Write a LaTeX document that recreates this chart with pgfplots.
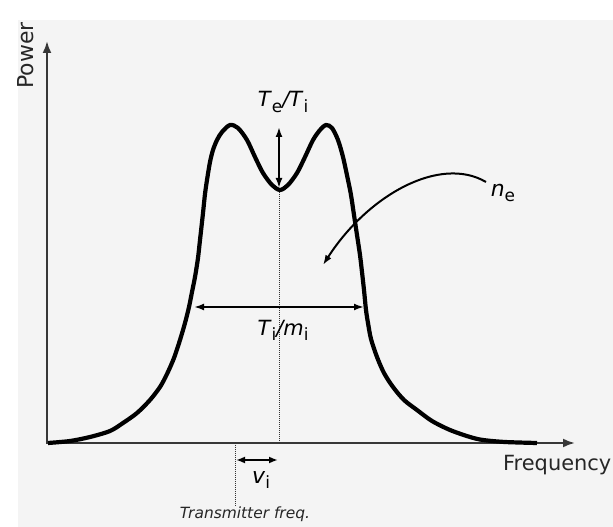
\documentclass[border=0pt]{standalone}
\usepackage{pgfplots}
\pgfplotsset{compat=1.18}
\usepackage{fontspec}
\setmainfont{DejaVu Sans}
\usetikzlibrary{arrows.meta}
\definecolor{bg}{RGB}{244,244,244}
\definecolor{axc}{RGB}{55,55,55}
\newcommand{\sub}[1]{\raisebox{-0.45ex}{\fontsize{17}{17}\selectfont\upshape #1}}
\begin{document}
\begin{tikzpicture}
\useasboundingbox (0,0) rectangle (613bp,527bp);
\clip (0,0) rectangle (613bp,527bp);
\begin{axis}[
  x=1bp, y=1bp, xmin=0, xmax=613, ymin=0, ymax=527,
  hide axis, clip=false, at={(0,0)}, anchor=south west
]
\fill[white] (0,0) rectangle (613,527);
\fill[bg] (18,0) rectangle (613,507);
% axes
\draw[axc, line width=2.2bp, -{Latex[length=12bp,width=9bp]}] (47,83) -- (47,486);
\draw[axc, line width=2.2bp, -{Latex[length=12bp,width=9bp]}] (46,84) -- (575,84);
% dotted lines
\draw[black!80, densely dotted, line width=1bp] (279,84) -- (279,337);
\draw[black!80, densely dotted, line width=1bp] (235,84) -- (235,22);
% spectrum
\addplot[black, line width=4.2bp, smooth, tension=0.5] coordinates {
(48,84) (70,86) (90,90) (110,96) (123,104) (137,114) (150,127) (160,140)
(167,153) (174,169) (180,187) (185,204) (189,220) (192,235) (195,250)
(198,269) (200,287) (203,314) (205,333) (207,347) (210,365) (213,377)
(217,387) (222,395) (230,402) (238,399) (247,387) (255,370) (263,354)
(272,342) (280,337) (288,342) (297,354) (305,370) (313,387) (320,397)
(326,402) (332,399) (338,387) (343,370) (348,347) (351,332) (354,312)
(357,292) (360,272) (362,255) (364,237) (366,217) (368,204) (371,188)
(377,170) (384,154) (393,140) (404,127) (417,117) (432,106) (450,97)
(470,90) (483,87) (505,85) (537,84)
};
% Te/Ti arrow
\draw[black, line width=2bp, {Latex[length=10bp,width=7bp]}-{Latex[length=10bp,width=7bp]}] (279,339) -- (279,400);
\node[font=\fontsize{21}{24}\selectfont] at (283,425) {\textit{T}\sub{e}\textit{/T}\sub{i}};
% Ti/mi arrow
\draw[black, line width=2bp, {Latex[length=10bp,width=7bp]}-{Latex[length=10bp,width=7bp]}] (194,220) -- (364,220);
\node[font=\fontsize{21}{24}\selectfont] at (283,197) {\textit{T}\sub{i}\textit{/m}\sub{i}};
% ne arrow
\draw[black, line width=2bp, -{Latex[length=10bp,width=7bp]}] (486,345) .. controls (440,372) and (368,332) .. (323,262);
\node[font=\fontsize{22}{24}\selectfont] at (503,334) {\textit{n}\sub{e}};
% vi arrow
\draw[black, line width=2bp, {Latex[length=9bp,width=7bp]}-{Latex[length=9bp,width=7bp]}] (236,67) -- (278,67);
\node[font=\fontsize{22}{24}\selectfont] at (261,47) {\textit{v}\sub{i}};
% labels
\node[font=\fontsize{15.5}{18}\selectfont\itshape, text=black!85] at (245,13) {Transmitter freq.};
\node[font=\fontsize{21}{24}\selectfont, text=black!85, anchor=west, inner xsep=0pt] at (503,62) {Frequency};
\node[font=\fontsize{22}{24}\selectfont, text=black!85, rotate=90, anchor=east] at (26,508) {Power};
\end{axis}
\end{tikzpicture}
\end{document}
